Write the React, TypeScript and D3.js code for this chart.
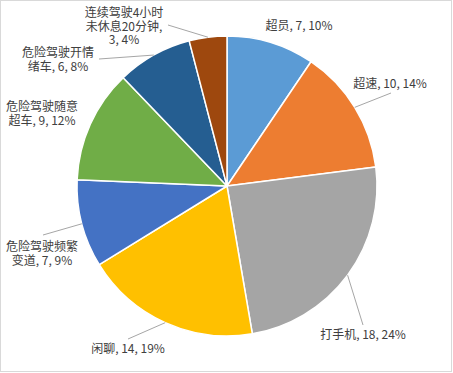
import React from "react";
import * as d3 from "d3";

const categories = ["超员", "超速", "打手机", "闲聊", "危险驾驶频繁变道", "危险驾驶随意超车", "危险驾驶开情绪车", "连续驾驶4小时未休息20分钟"];
const values = [7, 10, 18, 14, 7, 9, 6, 3];
const percents = ["10%", "14%", "24%", "19%", "9%", "12%", "8%", "4%"];
const colors = ["#5B9BD5", "#ED7D31", "#A5A5A5", "#FFC000", "#4472C4", "#70AD47", "#255E91", "#9E480E"];

// label text lines (as Excel wraps them)
const labelLines = [
  ["超员, 7, 10%"],
  ["超速, 10, 14%"],
  ["打手机, 18, 24%"],
  ["闲聊, 14, 19%"],
  ["危险驾驶频繁", "变道, 7, 9%"],
  ["危险驾驶随意", "超车, 9, 12%"],
  ["危险驾驶开情", "绪车, 6, 8%"],
  ["连续驾驶4小时", "未休息20分钟,", "3, 4%"],
];

// layout: label center x, first baseline y, leader end (null = no leader)
const labelLayout: { x: number; y: number; end: [number, number] | null }[] = [
  { x: 299, y: 30, end: null },
  { x: 390, y: 88, end: [391, 93] },
  { x: 363, y: 339, end: [363, 325] },
  { x: 128, y: 353, end: [128, 339] },
  { x: 42, y: 251, end: [43, 235] },
  { x: 42, y: 111, end: null },
  { x: 58, y: 57, end: [99, 59] },
  { x: 124, y: 17, end: [168, 25] },
];

const W = 453;
const H = 373;
const cx = 227;
const cy = 186;
const R = 150;
const lineH = 13.7;

export default function App() {
  const pie = d3.pie<number>().sort(null).value((d) => d).startAngle(0).endAngle(2 * Math.PI);
  const arcs = pie(values);
  const arcGen = d3.arc<d3.PieArcDatum<number>>().innerRadius(0).outerRadius(R);

  return (
    <svg
      width={W}
      height={H}
      style={{ position: "absolute", left: 0, top: 0, background: "#fff" }}
      fontFamily="'Noto Sans CJK SC', 'Microsoft YaHei', sans-serif"
    >
      <rect x={0.5} y={0.5} width={W - 2} height={H - 2} fill="#fff" stroke="#d9d9d9" strokeWidth={1} />
      <g transform={`translate(${cx},${cy})`}>
        {arcs.map((a, i) => (
          <path key={categories[i]} d={arcGen(a) || ""} fill={colors[i]} stroke="#fff" strokeWidth={1.5} strokeLinejoin="round" />
        ))}
      </g>
      {arcs.map((a, i) => {
        const lay = labelLayout[i];
        if (!lay.end) return null;
        const mid = (a.startAngle + a.endAngle) / 2;
        const sx = cx + R * Math.sin(mid);
        const sy = cy - R * Math.cos(mid);
        return <line key={"l" + i} x1={sx} y1={sy} x2={lay.end[0]} y2={lay.end[1]} stroke="#a6a6a6" strokeWidth={1} />;
      })}
      {labelLines.map((lines, i) => (
        <text key={"t" + i} textAnchor="middle" fontSize={12} fill="#404040">
          {lines.map((ln, j) => (
            <tspan key={j} x={labelLayout[i].x} y={labelLayout[i].y + j * lineH}>
              {ln}
            </tspan>
          ))}
        </text>
      ))}
    </svg>
  );
}
